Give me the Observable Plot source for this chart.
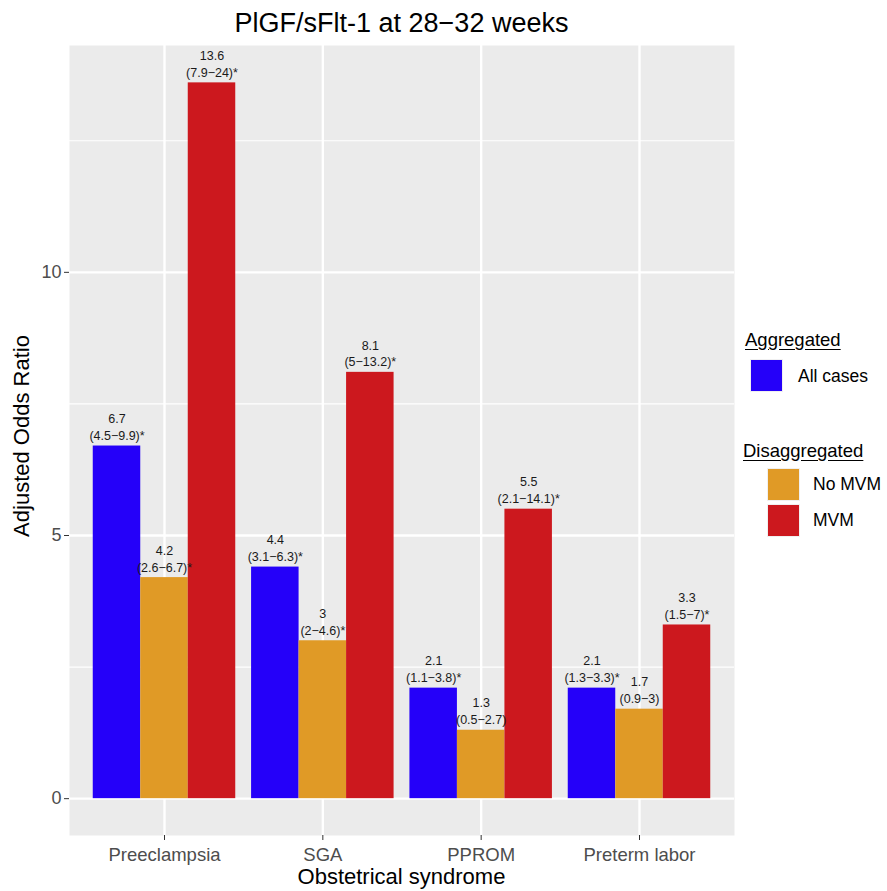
<!DOCTYPE html>
<html>
<head>
<meta charset="utf-8">
<script src="https://cdn.jsdelivr.net/npm/d3@7"></script>
<script src="https://cdn.jsdelivr.net/npm/@observablehq/plot@0.6"></script>
<style>
  html, body { margin: 0; padding: 0; background: white; }
  #wrap { position: relative; width: 887px; height: 891px; font-family: "Liberation Sans", Arial, sans-serif; overflow: hidden; }
  #wrap svg { position: absolute; left: 0; top: 0; }
  .abs { position: absolute; white-space: nowrap; line-height: 1; }
  .key { position: absolute; width: 33px; height: 33px; box-sizing: border-box; border: 1px solid #f0f0f0; }
</style>
</head>
<body>
<div id="wrap"></div>
<script>
const categories = ["Preeclampsia", "SGA", "PPROM", "Preterm labor"];
const groups = ["All cases", "No MVM", "MVM"];
const groupColors = ["#2500F9", "#E09A26", "#CC181E"];

const allCasesOR = [6.7, 4.4, 2.1, 2.1];
const allCasesCI = ["4.5−9.9", "3.1−6.3", "1.1−3.8", "1.3−3.3"];
const allCasesSig = [true, true, true, true];

const noMvmOR = [4.2, 3, 1.3, 1.7];
const noMvmCI = ["2.6−6.7", "2−4.6", "0.5−2.7", "0.9−3"];
const noMvmSig = [true, true, false, false];

const mvmOR = [13.6, 8.1, 5.5, 3.3];
const mvmCI = ["7.9−24", "5−13.2", "2.1−14.1", "1.5−7"];
const mvmSig = [true, true, true, true];

const yMajorTicks = [0, 5, 10];
const yMinorTicks = [2.5, 7.5, 12.5];

const series = [
  {or: allCasesOR, ci: allCasesCI, sig: allCasesSig},
  {or: noMvmOR, ci: noMvmCI, sig: noMvmSig},
  {or: mvmOR, ci: mvmCI, sig: mvmSig}
];

// ggplot-like dodge: categories at 1..n, dodge width 0.9 split in 3
const dodge = 0.9 / groups.length;
const rows = [];
categories.forEach((cat, i) => {
  groups.forEach((g, j) => {
    const s = series[j];
    const center = (i + 1) + (j - (groups.length - 1) / 2) * dodge;
    rows.push({
      category: cat,
      group: g,
      x1: center - dodge / 2,
      x2: center + dodge / 2,
      xc: center,
      value: s.or[i],
      label: `${s.or[i]}\n(${s.ci[i]})${s.sig[i] ? "*" : ""}`
    });
  });
});

const chart = Plot.plot({
  width: 887,
  height: 891,
  marginLeft: 69,
  marginRight: 153,
  marginTop: 45,
  marginBottom: 56,
  x: {domain: [0.4, categories.length + 0.6]},
  y: {domain: [-0.70, 14.31]},
  color: {domain: groups, range: groupColors},
  style: {fontFamily: "Liberation Sans, Arial, sans-serif", background: "transparent", color: "#4d4d4d"},
  marks: [
    Plot.frame({fill: "#ebebeb", stroke: "none"}),
    Plot.ruleY(yMinorTicks, {stroke: "white", strokeWidth: 1.2}),
    Plot.ruleY(yMajorTicks, {stroke: "white", strokeWidth: 2.4}),
    Plot.ruleX(categories.map((c, i) => i + 1), {stroke: "white", strokeWidth: 2.4}),
    Plot.rect(rows, {x1: "x1", x2: "x2", y1: 0, y2: "value", fill: "group"}),
    Plot.text(rows, {x: "xc", y: "value", text: "label", lineAnchor: "bottom", dy: -6, fontSize: 12.5, lineHeight: 1.34, fill: "#1a1a1a"}),
    Plot.axisY({ticks: yMajorTicks, tickFormat: d => String(d), tickSize: 5, tickPadding: 3, fontSize: 18, fill: "#4d4d4d", stroke: "#333", label: null}),
    Plot.axisX({ticks: categories.map((c, i) => i + 1), tickFormat: d => categories[d - 1], tickSize: 5, tickPadding: 7, fontSize: 18.5, fill: "#4d4d4d", stroke: "#333", label: null})
  ]
});

const wrap = document.getElementById("wrap");
wrap.appendChild(chart);

function addText(txt, opts) {
  const el = document.createElement("div");
  el.className = "abs";
  el.textContent = txt;
  Object.assign(el.style, opts);
  wrap.appendChild(el);
  return el;
}
function addKey(color, left, top) {
  const el = document.createElement("div");
  el.className = "key";
  el.style.left = left + "px";
  el.style.top = top + "px";
  el.style.background = color;
  wrap.appendChild(el);
}

const panelCenterSpan = (69 + 734) + "px";
// Title
addText("PlGF/sFlt-1 at 28−32 weeks", {fontSize: "27px", color: "#000", top: "10px", left: "0px", width: panelCenterSpan, textAlign: "center"});
// Axis titles
addText("Obstetrical syndrome", {fontSize: "22px", color: "#000", top: "866px", left: "0px", width: panelCenterSpan, textAlign: "center"});
addText("Adjusted Odds Ratio", {fontSize: "22px", color: "#000", left: "22px", top: "436px", transform: "translate(-50%, -50%) rotate(-90deg)"});

// Legend
addText("Aggregated", {fontSize: "18.5px", color: "#000", left: "745px", top: "331px", textDecoration: "underline", textUnderlineOffset: "3px"});
addKey(groupColors[0], 750, 359);
addText(groups[0], {fontSize: "17.5px", color: "#000", left: "798px", top: "368px"});

addText("Disaggregated", {fontSize: "18.5px", color: "#000", left: "743px", top: "442px", textDecoration: "underline", textUnderlineOffset: "3px"});
addKey(groupColors[1], 767, 468);
addText(groups[1], {fontSize: "17.5px", color: "#000", left: "813px", top: "476px"});
addKey(groupColors[2], 767, 504);
addText(groups[2], {fontSize: "17.5px", color: "#000", left: "813px", top: "512px"});
</script>
</body>
</html>
